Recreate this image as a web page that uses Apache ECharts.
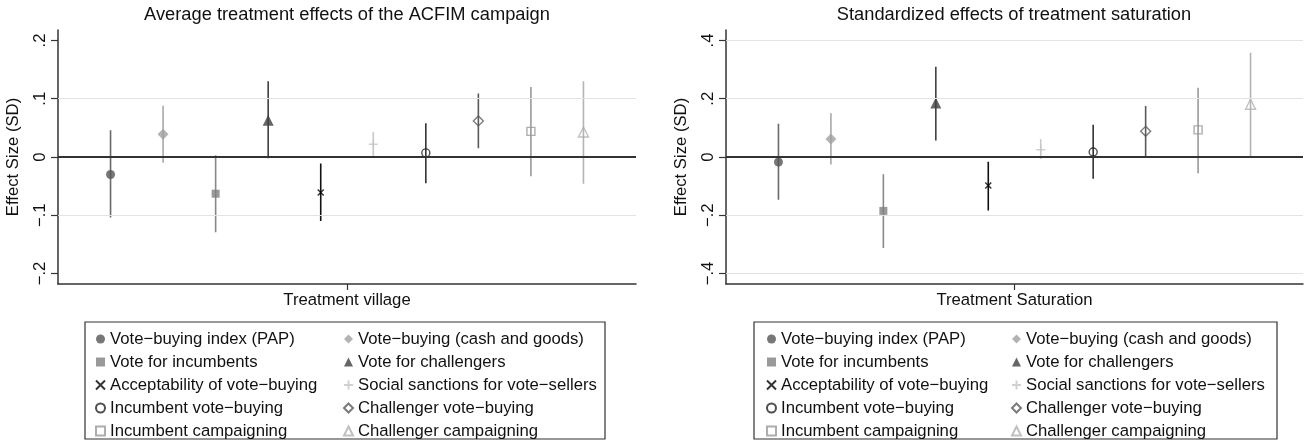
<!DOCTYPE html>
<html lang="en">
<head>
    <meta charset="UTF-8">
    <title>Treatment effects</title>
    <style>
        html, body { margin: 0; padding: 0; background: #fff; }
    </style>
</head>
<body>
<div id="main" style="width:1305px;height:447px;"></div>
<script src="https://cdn.jsdelivr.net/npm/echarts@6/dist/echarts.min.js"></script>
<script>
    // outcome names (legend order follows the plotted order)
    var outcomeNames = [
        'Vote\u2212buying index (PAP)', 'Vote\u2212buying (cash and goods)',
        'Vote for incumbents', 'Vote for challengers',
        'Acceptability of vote\u2212buying', 'Social sanctions for vote\u2212sellers',
        'Incumbent vote\u2212buying', 'Challenger vote\u2212buying',
        'Incumbent campaigning', 'Challenger campaigning'
    ];

    // left panel: treatment village
    var villageEst = [-0.030, 0.039, -0.063, 0.063, -0.061, 0.022, 0.007, 0.062, 0.044, 0.043];
    var villageLo  = [-0.104, -0.010, -0.129, -0.002, -0.110, 0.001, -0.045, 0.015, -0.033, -0.046];
    var villageHi  = [0.046, 0.088, 0.003, 0.130, -0.011, 0.043, 0.058, 0.109, 0.120, 0.130];

    // right panel: treatment saturation
    var satEst = [-0.017, 0.062, -0.185, 0.185, -0.098, 0.025, 0.017, 0.088, 0.093, 0.181];
    var satLo  = [-0.147, -0.026, -0.312, 0.057, -0.184, -0.007, -0.075, 0.002, -0.056, 0.002];
    var satHi  = [0.114, 0.150, -0.059, 0.310, -0.016, 0.061, 0.111, 0.175, 0.238, 0.358];

    // tick labels
    var villageTicks = [-0.2, -0.1, 0, 0.1, 0.2];
    var villageTickText = ['\u2212.2', '\u2212.1', '0', '.1', '.2'];
    var satTicks = [-0.4, -0.2, 0, 0.2, 0.4];
    var satTickText = ['\u2212.4', '\u2212.2', '0', '.2', '.4'];

    // marker styles
    var xPath = 'path://M0,0L10,10M10,0L0,10';
    var plusPath = 'path://M5,0L5,10M0,5L10,5';
    var markers = [
        {symbol: 'circle', size: 9, color: '#555555', hollow: false, bar: '#6a6a6a'},
        {symbol: 'diamond', size: 11, color: '#a0a0a0', hollow: false, bar: '#a8a8a8'},
        {symbol: 'rect', size: 8, color: '#808080', hollow: false, bar: '#888888'},
        {symbol: 'triangle', size: 11, color: '#404040', hollow: false, bar: '#404040'},
        {symbol: xPath, size: 6, color: '#000000', hollow: true, bar: '#111111'},
        {symbol: plusPath, size: 9, color: '#c4c4c4', hollow: true, bar: '#c8c8c8'},
        {symbol: 'circle', size: 8, color: '#222222', hollow: true, bar: '#333333'},
        {symbol: 'diamond', size: 10, color: '#5a5a5a', hollow: true, bar: '#5a5a5a'},
        {symbol: 'rect', size: 8, color: '#999999', hollow: true, bar: '#999999'},
        {symbol: 'triangle', size: 10, color: '#b0b0b0', hollow: true, bar: '#b4b4b4'}
    ];

    var font = 'Liberation Sans, Arial, sans-serif';
    var textColor = '#111';
    var fs = 16.7;

    function nearestLabel(ticks, texts, v) {
        var best = 0;
        for (var i = 1; i < ticks.length; i++) {
            if (Math.abs(ticks[i] - v) < Math.abs(ticks[best] - v)) best = i;
        }
        return texts[best];
    }

    function panelSeries(idx, est, lo, hi, grid) {
        var list = [];
        // horizontal reference lines
        list.push({
            type: 'line', name: 'ref' + idx, xAxisIndex: idx, yAxisIndex: idx,
            data: [], silent: true, z: 1,
            markLine: {
                silent: true, symbol: 'none', animation: false,
                label: {show: false},
                data: grid.map(function (g) {
                    return {yAxis: g, lineStyle: {color: '#e3e3e3', width: 1.2, type: 'solid'}};
                }).concat([{yAxis: 0, lineStyle: {color: '#333', width: 2, type: 'solid'}}])
            }
        });
        for (var i = 0; i < est.length; i++) {
            var m = markers[i];
            list.push({
                type: 'line', name: 'ci' + idx + '_' + i,
                xAxisIndex: idx, yAxisIndex: idx,
                data: [[i + 1, lo[i]], [i + 1, hi[i]]],
                symbol: 'none', silent: true, z: 2,
                lineStyle: {color: m.bar, width: 1.6}
            });
            list.push({
                type: 'scatter', name: outcomeNames[i],
                xAxisIndex: idx, yAxisIndex: idx,
                data: [[i + 1, est[i]]],
                symbol: m.symbol, symbolSize: m.size, z: 3,
                itemStyle: m.hollow
                    ? {color: 'rgba(255,255,255,0)', borderColor: m.color, borderWidth: 1.4}
                    : {color: m.color}
            });
        }
        return list;
    }

    function yAxis(idx, lim, ticks, texts) {
        return {
            type: 'value', gridIndex: idx, min: -lim, max: lim,
            name: 'Effect Size (SD)', nameLocation: 'middle', nameGap: 36, nameRotate: 90,
            nameTextStyle: {fontFamily: font, fontSize: fs, color: textColor},
            axisLine: {show: true, onZero: false, lineStyle: {color: '#333', width: 1.5}},
            axisTick: {show: true, length: 7, customValues: ticks, lineStyle: {color: '#333', width: 1.2}},
            axisLabel: {
                customValues: ticks, rotate: 90, margin: 9,
                fontFamily: font, fontSize: fs, color: textColor,
                formatter: function (v) { return nearestLabel(ticks, texts, v); }
            },
            splitLine: {show: false}
        };
    }

    function xAxis(idx, text) {
        return {
            type: 'value', gridIndex: idx, min: 0, max: 11,
            axisLine: {show: true, onZero: false, lineStyle: {color: '#333', width: 1.5}},
            axisTick: {show: true, length: 6, customValues: [5.5], lineStyle: {color: '#333', width: 1.2}},
            axisLabel: {
                customValues: [5.5], margin: 8,
                fontFamily: font, fontSize: fs, color: textColor,
                formatter: function () { return text; }
            },
            splitLine: {show: false}
        };
    }

    function legendCol(left, names) {
        return {
            orient: 'vertical', left: left, top: 324, height: 160,
            itemWidth: 9, itemHeight: 9, itemGap: 3,
            selectedMode: false,
            textStyle: {fontFamily: font, fontSize: fs, color: textColor, lineHeight: 20},
            data: names
        };
    }

    var col1 = [0, 2, 4, 6, 8].map(function (i) { return outcomeNames[i]; });
    var col2 = [1, 3, 5, 7, 9].map(function (i) { return outcomeNames[i]; });

    var myChart = echarts.init(document.getElementById('main'));
    var option = {
        animation: false,
        backgroundColor: '#fff',
        title: [
            {text: 'Average treatment effects of the ACFIM campaign', left: 342, top: 1, textAlign: 'center',
                textStyle: {fontFamily: font, fontSize: 18.3, fontWeight: 'normal', color: textColor}},
            {text: 'Standardized effects of treatment saturation', left: 1009, top: 1, textAlign: 'center',
                textStyle: {fontFamily: font, fontSize: 18.3, fontWeight: 'normal', color: textColor}}
        ],
        grid: [
            {left: 58, top: 30, width: 578, height: 254},
            {left: 726, top: 30, width: 577, height: 254}
        ],
        xAxis: [xAxis(0, 'Treatment village'), xAxis(1, 'Treatment Saturation')],
        yAxis: [yAxis(0, 0.218, villageTicks, villageTickText), yAxis(1, 0.436, satTicks, satTickText)],
        legend: [
            legendCol(90, col1), legendCol(338, col2),
            legendCol(761, col1), legendCol(1006, col2)
        ],
        graphic: [
            {type: 'rect', shape: {x: 85, y: 322, width: 520, height: 117},
                style: {fill: 'none', stroke: '#333', lineWidth: 1.2}, silent: true},
            {type: 'rect', shape: {x: 754, y: 322, width: 523, height: 117},
                style: {fill: 'none', stroke: '#333', lineWidth: 1.2}, silent: true}
        ],
        series: panelSeries(0, villageEst, villageLo, villageHi, [-0.1, 0.1])
            .concat(panelSeries(1, satEst, satLo, satHi, [-0.4, -0.2, 0.2, 0.4]))
    };
    myChart.setOption(option);
</script>
</body>
</html>
